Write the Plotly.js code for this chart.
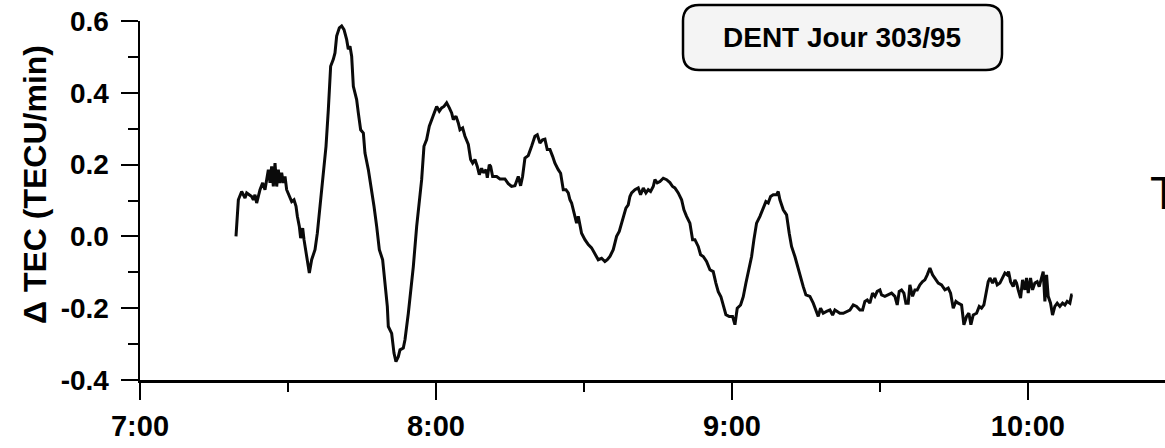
<!DOCTYPE html>
<html>
<head>
<meta charset="utf-8">
<script src="https://cdn.plot.ly/plotly-3.0.1.min.js"></script>
<style>html,body{margin:0;padding:0;background:#fff;}#chart{width:1165px;height:448px;}</style>
</head>
<body>
<div id="chart"></div>
<script>
// Time in minutes after 7:00 UT, ΔTEC in TECU/min
const minutesA = [19.46,19.94,20.61,21.29,21.63,22.64,22.98,23.31,23.65,24.33,24.87,25.34,25.68,26.02,26.36,26.69,27.03,27.37,27.71,28.04,28.38,28.72,29.06,29.40,29.73,30.41,30.75,31.22,31.63,31.90,32.30,32.57,32.98,33.25,33.65,34.33,34.80,35.48,35.95,36.36,36.83,37.30,37.71,38.18,38.65,39.19,39.53,39.87,40.41,40.88,41.36,41.90,42.23,42.57,42.91,43.25,43.92,44.26,44.73,45.28,45.61,46.29,46.96,47.44,47.98,48.52,49.19,49.67,50.14,50.34,51.02,51.49,51.89,52.37,52.71,53.38,53.72,54.40,54.87,55.41,56.09,56.63,57.10,57.57,58.11,58.65,59.13,59.80,60.14,60.68,61.15,61.63,62.17,62.71,63.18,63.52,64.06,64.53,64.87,65.41,65.88,66.56,67.03,67.44,67.91,68.38,68.79,69.26,69.60,70.14,70.41,70.81,71.09,71.49,72.30];
const dtecA = [0.000,0.102,0.125,0.107,0.121,0.111,0.102,0.116,0.093,0.130,0.149,0.130,0.158,0.186,0.149,0.195,0.139,0.204,0.139,0.186,0.149,0.177,0.149,0.167,0.130,0.111,0.097,0.102,0.084,0.056,0.028,-0.005,0.023,-0.009,-0.047,-0.102,-0.065,-0.037,0.009,0.065,0.121,0.186,0.251,0.353,0.474,0.493,0.511,0.558,0.581,0.586,0.576,0.548,0.521,0.530,0.502,0.418,0.381,0.344,0.297,0.288,0.232,0.186,0.130,0.084,0.028,-0.037,-0.065,-0.130,-0.195,-0.251,-0.270,-0.325,-0.349,-0.335,-0.316,-0.311,-0.288,-0.214,-0.158,-0.084,0.028,0.093,0.158,0.251,0.270,0.307,0.325,0.353,0.362,0.349,0.358,0.362,0.372,0.358,0.344,0.325,0.335,0.316,0.297,0.302,0.279,0.256,0.214,0.204,0.214,0.195,0.172,0.190,0.177,0.186,0.163,0.200,0.195,0.167,0.167];

const minutesB = [72.97,73.98,74.66,75.33,76.01,76.69,77.16,77.56,78.04,78.71,79.39,80.06,80.54,81.08,81.62,82.09,82.56,83.11,83.65,84.12,84.79,85.27,85.81,86.35,86.82,87.16,87.50,87.97,88.51,88.85,89.19,89.52,90.20,90.88,91.55,92.23,92.90,93.58,94.25,94.73,95.27,95.94,96.62,97.16,97.63,98.11,98.51,98.98,99.32,99.66,100.34,101.01,101.48,102.03,102.57,103.04,103.51,104.05,104.39,104.86,105.40,106.08,106.76,107.43,107.97,108.44,109.12,109.80,110.27,110.81,111.48,112.03,112.50,113.17,113.65,114.19,114.86,115.54,116.21,116.75,117.23,117.77,118.24,118.78,119.46,120.13,120.61,121.08,121.76,122.30,122.84,123.38,123.99,124.46,125.00,125.68,126.35,126.89,127.36,127.84,128.38,129.05,129.39,129.73];
const dtecB = [0.160,0.160,0.147,0.139,0.141,0.167,0.141,0.167,0.218,0.225,0.251,0.279,0.283,0.260,0.269,0.271,0.242,0.242,0.223,0.204,0.186,0.176,0.130,0.130,0.121,0.102,0.093,0.065,0.037,0.056,0.028,0.009,-0.009,-0.023,-0.032,-0.051,-0.065,-0.061,-0.070,-0.065,-0.056,-0.037,0.000,0.014,0.037,0.056,0.079,0.088,0.111,0.121,0.130,0.135,0.116,0.135,0.121,0.130,0.125,0.139,0.158,0.149,0.153,0.162,0.158,0.150,0.139,0.135,0.121,0.102,0.074,0.056,0.037,-0.009,-0.009,-0.028,-0.051,-0.056,-0.070,-0.093,-0.098,-0.130,-0.154,-0.168,-0.195,-0.218,-0.223,-0.223,-0.246,-0.200,-0.191,-0.168,-0.130,-0.093,-0.056,-0.009,0.037,0.056,0.079,0.097,0.093,0.111,0.116,0.116,0.125,0.102];

const minutesC = [130.41,131.08,131.62,132.09,132.77,133.45,133.92,134.46,135.00,135.81,136.49,137.03,137.50,137.97,138.51,139.19,139.87,140.41,140.88,141.35,141.89,142.57,143.24,143.92,144.60,145.27,145.95,146.49,146.96,147.43,147.97,148.51,148.99,149.46,150.00,150.34,151.01,151.69,152.37,153.04,153.51,153.92,154.39,154.87,155.27,155.74,156.08,156.62,157.10,157.57,158.11,158.65,159.12,159.60,160.14,160.68,161.15,161.83,162.50,163.18,163.85,164.33,164.87,165.41,165.88,166.56,167.03,167.57,168.04,168.45,168.92,169.60,170.14,170.61,171.08,171.49,171.96,172.30,172.84,173.31,173.79,174.33,174.87,175.34,175.81,176.08,176.49,177.03,177.37,177.70,178.04,178.52,178.92,179.39,179.73,180.07,180.54,180.95,181.42,181.89,182.30,182.77,183.11,183.45,183.79,184.12,184.60,185.00,185.47,185.95,186.49,187.03,187.50,187.97,188.51,188.85,189.05];
const dtecC = [0.074,0.060,0.009,-0.028,-0.056,-0.093,-0.112,-0.140,-0.163,-0.167,-0.186,-0.205,-0.223,-0.200,-0.214,-0.209,-0.205,-0.219,-0.205,-0.209,-0.214,-0.214,-0.209,-0.205,-0.191,-0.195,-0.205,-0.205,-0.181,-0.177,-0.186,-0.158,-0.167,-0.153,-0.149,-0.163,-0.167,-0.163,-0.158,-0.167,-0.191,-0.153,-0.149,-0.158,-0.186,-0.186,-0.135,-0.167,-0.149,-0.149,-0.135,-0.126,-0.121,-0.107,-0.088,-0.107,-0.116,-0.130,-0.135,-0.149,-0.144,-0.158,-0.200,-0.181,-0.186,-0.191,-0.246,-0.223,-0.214,-0.246,-0.219,-0.214,-0.195,-0.200,-0.191,-0.158,-0.126,-0.116,-0.130,-0.116,-0.135,-0.130,-0.116,-0.102,-0.107,-0.098,-0.126,-0.140,-0.121,-0.130,-0.149,-0.172,-0.121,-0.149,-0.116,-0.158,-0.116,-0.149,-0.130,-0.126,-0.140,-0.116,-0.098,-0.181,-0.107,-0.167,-0.186,-0.219,-0.195,-0.186,-0.195,-0.186,-0.191,-0.181,-0.186,-0.163,-0.163];

const xTickVals = [0, 60, 120, 180];
const xTickText = ['7:00', '8:00', '9:00', '10:00'];
const xMinorVals = [30, 90, 150];
const yTickVals = [-0.4, -0.2, 0, 0.2, 0.4, 0.6];
const yTickText = ['-0.4', '-0.2', '0.0', '0.2', '0.4', '0.6'];
const yMinorVals = [-0.3, -0.1, 0.1, 0.3, 0.5];

const stationLabel = 'DENT Jour 303/95';
const yTitle = 'Δ TEC (TECU/min)';

const minutes = minutesA.concat(minutesB, minutesC);
const dtec = dtecA.concat(dtecB, dtecC);

const FONT = 'Liberation Sans, Arial, Helvetica, sans-serif';
const W = 1165, H = 448;
const M = {l: 140, r: 0, t: 21, b: 68};
const PW = W - M.l - M.r, PH = H - M.t - M.b;
// pixel -> paper helpers for decorations
const px = x => (x - M.l) / PW;
const py = y => (H - M.b - y) / PH;

function roundedBox(x0, y0, x1, y1, r) {
  const P = (x, y) => px(x).toFixed(5) + ',' + py(y).toFixed(5);
  return 'M' + P(x0 + r, y0) + ' L' + P(x1 - r, y0) + ' Q' + P(x1, y0) + ' ' + P(x1, y0 + r) +
    ' L' + P(x1, y1 - r) + ' Q' + P(x1, y1) + ' ' + P(x1 - r, y1) +
    ' L' + P(x0 + r, y1) + ' Q' + P(x0, y1) + ' ' + P(x0, y1 - r) +
    ' L' + P(x0, y0 + r) + ' Q' + P(x0, y0) + ' ' + P(x0 + r, y0) + ' Z';
}

const trace = {
  x: minutes, y: dtec, type: 'scatter', mode: 'lines',
  line: {color: '#0a0a0a', width: 3}, hoverinfo: 'skip'
};

const layout = {
  width: W, height: H,
  margin: M,
  paper_bgcolor: '#ffffff', plot_bgcolor: '#ffffff',
  showlegend: false,
  font: {family: FONT, color: '#000'},
  xaxis: {
    range: [0, 207.8], showgrid: false, zeroline: false,
    showline: true, linecolor: '#000', linewidth: 2.5,
    tickmode: 'array', tickvals: xTickVals, ticktext: xTickText,
    ticks: 'outside', ticklen: 17, tickwidth: 2, tickcolor: '#000',
    ticklabelstandoff: 2,
    tickfont: {family: FONT, size: 29, color: '#000', weight: 'bold'},
    minor: {tickmode: 'array', tickvals: xMinorVals, ticks: 'outside', ticklen: 9, tickwidth: 2, tickcolor: '#000', showgrid: false}
  },
  yaxis: {
    range: [-0.4, 0.6], showgrid: false, zeroline: false,
    showline: true, linecolor: '#000', linewidth: 2.5,
    tickmode: 'array', tickvals: yTickVals, ticktext: yTickText,
    ticks: 'outside', ticklen: 17, tickwidth: 2, tickcolor: '#000',
    ticklabelstandoff: 6,
    tickfont: {family: FONT, size: 28, color: '#000', weight: 'bold'},
    minor: {tickmode: 'array', tickvals: yMinorVals, ticks: 'outside', ticklen: 10, tickwidth: 2, tickcolor: '#000', showgrid: false}
  },
  shapes: [{
    type: 'path', xref: 'paper', yref: 'paper',
    path: roundedBox(683, 5, 1002, 70, 16),
    line: {color: '#000', width: 2.5}, fillcolor: '#f4f4f4', layer: 'above'
  }],
  annotations: [
    {text: stationLabel, xref: 'paper', yref: 'paper', x: px(842), y: py(38),
     xanchor: 'center', yanchor: 'middle', showarrow: false,
     font: {family: FONT, size: 28, color: '#000', weight: 'bold'}},
    {text: yTitle, xref: 'paper', yref: 'paper', x: px(35), y: py(185),
     xanchor: 'center', yanchor: 'middle', textangle: -90, showarrow: false,
     font: {family: FONT, size: 32, color: '#000', weight: 'bold'}},
    {text: 'T', xref: 'paper', yref: 'paper', x: px(1148), y: py(193),
     xanchor: 'left', yanchor: 'middle', showarrow: false,
     font: {family: FONT, size: 46, color: '#000'}}
  ]
};

Plotly.newPlot('chart', [trace], layout, {staticPlot: true, displayModeBar: false});
</script>
</body>
</html>
